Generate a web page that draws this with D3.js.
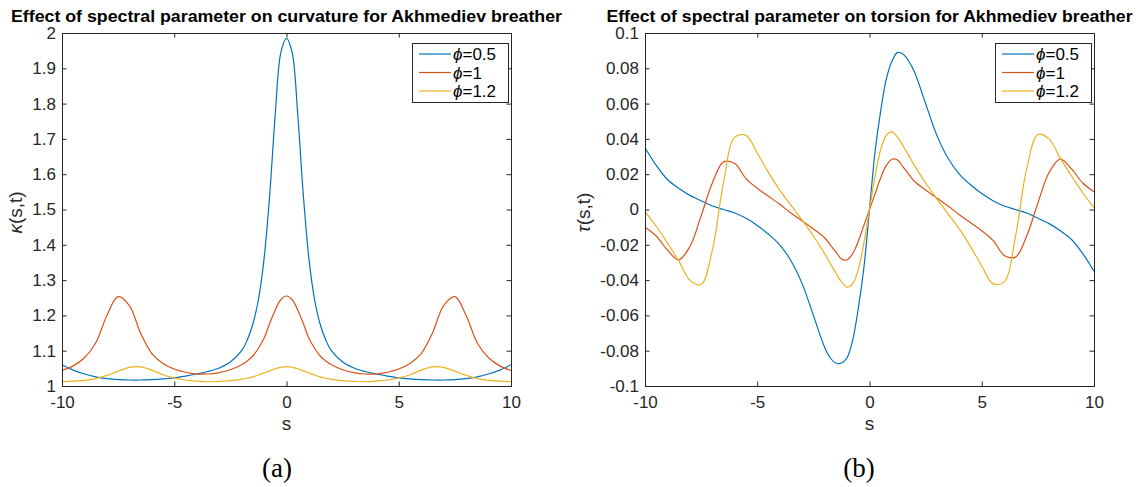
<!DOCTYPE html>
<html>
<head>
<meta charset="utf-8">
<script src="https://cdnjs.cloudflare.com/ajax/libs/d3/7.8.5/d3.min.js"></script>
<style>
  html, body { margin: 0; padding: 0; background: #fff; }
  svg { display: block; }
</style>
</head>
<body>
<div id="chart"></div>
<script>
// arc length s (finer around the centre peak)
var sValues = [-10, -9.5, -9, -8.5, -8, -7.5, -7, -6.5, -6, -5.5, -5, -4.5, -4, -3.5, -3, -2.5,
    -2, -1.75, -1.5, -1.25, -1, -0.75, -0.5, -0.25, 0, 0.25, 0.5, 0.75, 1, 1.25, 1.5, 1.75, 2,
    2.5, 3, 3.5, 4, 4.5, 5, 5.5, 6, 6.5, 7, 7.5, 8, 8.5, 9, 9.5, 10];

// curvature kappa(s,t)
var kappaPhi05 = [1.060, 1.045, 1.034, 1.026, 1.021, 1.018, 1.017, 1.017, 1.018, 1.020, 1.023, 1.028, 1.034, 1.041, 1.051, 1.068,
    1.100, 1.130, 1.175, 1.245, 1.360, 1.540, 1.770, 1.945, 1.985, 1.945, 1.770, 1.540, 1.360, 1.245, 1.175, 1.130, 1.100,
    1.068, 1.051, 1.041, 1.034, 1.028, 1.023, 1.020, 1.018, 1.017, 1.017, 1.018, 1.021, 1.026, 1.034, 1.045, 1.060];
var kappaPhi1 = [1.044, 1.057, 1.080, 1.122, 1.200, 1.253, 1.228, 1.150, 1.092, 1.064, 1.048, 1.039, 1.034, 1.034, 1.038, 1.046,
    1.060, 1.071, 1.085, 1.107, 1.135, 1.177, 1.215, 1.245, 1.255, 1.245, 1.215, 1.177, 1.135, 1.107, 1.085, 1.071, 1.060,
    1.046, 1.038, 1.034, 1.034, 1.039, 1.048, 1.064, 1.092, 1.150, 1.228, 1.253, 1.200, 1.122, 1.080, 1.057, 1.044];
var kappaPhi12 = [1.012, 1.014, 1.016, 1.021, 1.030, 1.042, 1.053, 1.054, 1.045, 1.032, 1.023, 1.017, 1.014, 1.012, 1.013, 1.015,
    1.019, 1.022, 1.026, 1.031, 1.037, 1.043, 1.049, 1.053, 1.055, 1.053, 1.049, 1.043, 1.037, 1.031, 1.026, 1.022, 1.019,
    1.015, 1.013, 1.012, 1.014, 1.017, 1.023, 1.032, 1.045, 1.054, 1.053, 1.042, 1.030, 1.021, 1.016, 1.014, 1.012];

// torsion tau(s,t)
var tauPhi05 = [0.035, 0.025, 0.017, 0.012, 0.008, 0.005, 0.002, 0.000, -0.002, -0.005, -0.009, -0.014, -0.020, -0.029, -0.042, -0.060,
    -0.078, -0.084, -0.087, -0.087, -0.084, -0.074, -0.056, -0.033, 0, 0.033, 0.056, 0.074, 0.084, 0.089, 0.088, 0.084, 0.078,
    0.060, 0.042, 0.029, 0.020, 0.014, 0.009, 0.005, 0.002, 0.000, -0.002, -0.005, -0.008, -0.012, -0.017, -0.025, -0.035];
var tauPhi1 = [-0.010, -0.015, -0.023, -0.0285, -0.021, -0.0036, 0.015, 0.027, 0.026, 0.0175, 0.012, 0.0075, 0.003, -0.002, -0.0065, -0.011,
    -0.016, -0.020, -0.024, -0.028, -0.0285, -0.025, -0.018, -0.009, 0, 0.009, 0.018, 0.025, 0.0285, 0.028, 0.024, 0.020, 0.016,
    0.011, 0.0065, 0.002, -0.003, -0.0075, -0.012, -0.0175, -0.026, -0.027, -0.015, 0.0036, 0.021, 0.0285, 0.023, 0.015, 0.010];
var tauPhi12 = [-0.001, -0.0095, -0.019, -0.029, -0.040, -0.0425, -0.023, 0.0155, 0.041, 0.042, 0.032, 0.021, 0.011, 0.0025, -0.006, -0.015,
    -0.025, -0.0305, -0.036, -0.041, -0.044, -0.042, -0.034, -0.019, 0, 0.019, 0.034, 0.042, 0.044, 0.041, 0.036, 0.0305, 0.025,
    0.015, 0.006, -0.0025, -0.011, -0.021, -0.032, -0.042, -0.041, -0.0155, 0.023, 0.0425, 0.040, 0.029, 0.019, 0.0095, 0.001];

var phiLabels = ['0.5', '1', '1.2'];
var sTicks = [-10, -5, 0, 5, 10];
var kappaTicks = [1, 1.1, 1.2, 1.3, 1.4, 1.5, 1.6, 1.7, 1.8, 1.9, 2];
var tauTicks = [-0.1, -0.08, -0.06, -0.04, -0.02, 0, 0.02, 0.04, 0.06, 0.08, 0.1];
var titles = ['Effect of spectral parameter on curvature for Akhmediev breather',
    'Effect of spectral parameter on torsion for Akhmediev breather'];
var captions = ['(a)', '(b)'];

var totalWidth = 1140;
var totalHeight = 487;
var colors = ['#0072BD', '#D95319', '#EDB120'];
var axisColor = '#262626';
var font = '"Liberation Sans", Arial, Helvetica, sans-serif';

var panels = [{
    left: 62, right: 511, top: 33, bottom: 386,
    yDomain: [1, 2], yTicks: kappaTicks, ySymbol: 'κ', yLabelOffset: 47,
    series: [kappaPhi05, kappaPhi1, kappaPhi12],
    title: titles[0], titleWidth: 551, caption: captions[0], captionX: 277
}, {
    left: 645, right: 1094, top: 33, bottom: 386,
    yDomain: [-0.1, 0.1], yTicks: tauTicks, ySymbol: 'τ', yLabelOffset: 62,
    series: [tauPhi05, tauPhi1, tauPhi12],
    title: titles[1], titleWidth: 526, caption: captions[1], captionX: 859
}];

var svg = d3.select('#chart').append('svg')
    .attr('width', totalWidth)
    .attr('height', totalHeight)
    .style('background', '#fff');

panels.forEach(function(p) {
    var width = p.right - p.left;
    var height = p.bottom - p.top;

    var xScale = d3.scaleLinear().domain([-10, 10]).range([0, width]);
    var yScale = d3.scaleLinear().domain(p.yDomain).range([height, 0]);

    var g = svg.append('g').attr('transform', 'translate(' + p.left + ',' + p.top + ')');

    // ticks point inwards on all four sides, like matlab's box on
    var tickLen = 4.5;
    var xAxis = d3.axisBottom(xScale).tickValues(sTicks).tickSizeInner(-tickLen).tickSizeOuter(0)
        .tickPadding(10).tickFormat(function(d) { return String(d); });
    var yAxis = d3.axisLeft(yScale).tickValues(p.yTicks).tickSizeInner(-tickLen).tickSizeOuter(0)
        .tickPadding(6).tickFormat(function(d) { return String(d); });
    var xTop = d3.axisTop(xScale).tickValues(sTicks).tickSizeInner(-tickLen).tickSizeOuter(0).tickFormat('');
    var yRight = d3.axisRight(yScale).tickValues(p.yTicks).tickSizeInner(-tickLen).tickSizeOuter(0).tickFormat('');

    var axes = [
        g.append('g').attr('transform', 'translate(0,' + height + ')').call(xAxis),
        g.append('g').call(yAxis),
        g.append('g').call(xTop),
        g.append('g').attr('transform', 'translate(' + width + ',0)').call(yRight)
    ];
    axes.forEach(function(a) {
        a.select('.domain').remove();
        a.selectAll('line').attr('stroke', axisColor).attr('stroke-width', 1);
        a.selectAll('text').attr('fill', axisColor).attr('font-size', 17).attr('font-family', font);
    });

    var line = d3.line()
        .x(function(d) { return xScale(d[0]); })
        .y(function(d) { return yScale(d[1]); })
        .curve(d3.curveCatmullRom.alpha(0.5));

    p.series.forEach(function(vals, i) {
        g.append('path')
            .datum(sValues.map(function(s, j) { return [s, vals[j]]; }))
            .attr('fill', 'none')
            .attr('stroke', colors[i])
            .attr('stroke-width', 1.2)
            .attr('d', line);
    });

    g.append('rect')
        .attr('x', 0.5).attr('y', 0.5)
        .attr('width', width).attr('height', height)
        .attr('fill', 'none')
        .attr('stroke', axisColor)
        .attr('stroke-width', 1);

    // legend box in the north-east corner
    var lgW = 96, lgH = 59;
    var lg = g.append('g').attr('transform', 'translate(' + (width - 3 - lgW) + ',10)');
    lg.append('rect')
        .attr('x', 0.5).attr('y', 0.5)
        .attr('width', lgW).attr('height', lgH)
        .attr('fill', '#fff')
        .attr('stroke', axisColor)
        .attr('stroke-width', 1);
    phiLabels.forEach(function(lbl, i) {
        var cy = 11 + i * 18.5;
        lg.append('line')
            .attr('x1', 7).attr('x2', 39)
            .attr('y1', cy).attr('y2', cy)
            .attr('stroke', colors[i]).attr('stroke-width', 1.2);
        var t = lg.append('text')
            .attr('x', 41).attr('y', cy + 6)
            .attr('font-family', font).attr('font-size', 17).attr('fill', '#000');
        t.append('tspan').attr('font-style', 'italic').text('ϕ');
        t.append('tspan').text('=' + lbl);
    });

    g.append('text')
        .attr('x', width / 2).attr('y', -11)
        .attr('text-anchor', 'middle')
        .attr('font-family', font).attr('font-weight', 'bold').attr('font-size', 17)
        .attr('textLength', p.titleWidth).attr('lengthAdjust', 'spacingAndGlyphs')
        .attr('fill', '#000')
        .text(p.title);

    g.append('text')
        .attr('x', width / 2).attr('y', height + 44)
        .attr('text-anchor', 'middle')
        .attr('font-family', font).attr('font-size', 19).attr('fill', axisColor)
        .text('s');

    var yl = g.append('text')
        .attr('transform', 'translate(' + (-p.yLabelOffset) + ',' + (height / 2 + 3) + ') rotate(-90)')
        .attr('text-anchor', 'middle')
        .attr('dy', '0.35em')
        .attr('font-family', font).attr('font-size', 19).attr('fill', axisColor);
    yl.append('tspan').attr('font-style', 'italic').text(p.ySymbol);
    yl.append('tspan').text('(s,t)');

    svg.append('text')
        .attr('x', p.captionX).attr('y', 477)
        .attr('text-anchor', 'middle')
        .attr('font-family', '"Liberation Serif", "Times New Roman", serif')
        .attr('font-size', 27).attr('fill', '#000')
        .text(p.caption);
});
</script>
</body>
</html>
